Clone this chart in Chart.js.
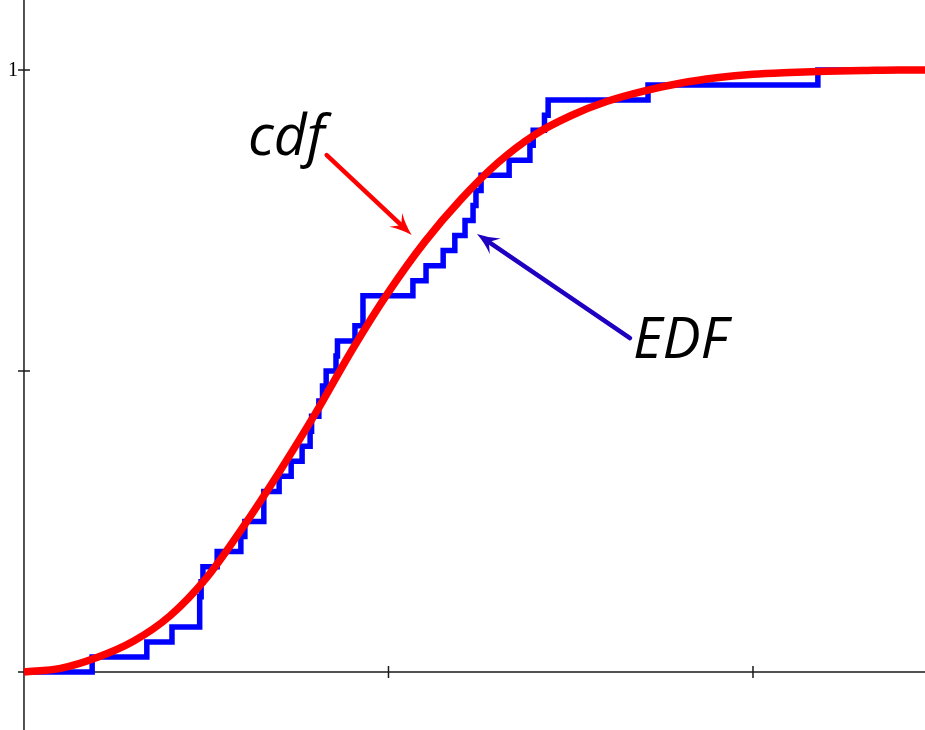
<!DOCTYPE html>
<html><head><meta charset="utf-8">
<script src="https://cdn.jsdelivr.net/npm/chart.js@4/dist/chart.umd.min.js"></script>
<style>html,body{margin:0;padding:0;background:#fff;overflow:hidden}#wrap{width:925px;height:730px;position:relative}</style>
</head><body><div id="wrap"><canvas id="c"></canvas></div>
<script>
// ---- data ----
const seriesLabels = ['cdf', 'EDF'];
const cdfX = [0, 0.1, 0.2, 0.3, 0.4, 0.5, 0.6, 0.7, 0.8, 0.9, 1.0, 1.1, 1.2, 1.3, 1.4, 1.5, 1.6, 1.7, 1.8, 1.9, 2.0, 2.1, 2.2, 2.3, 2.4, 2.472];
const cdfY = [0, 0.006, 0.024, 0.051, 0.093, 0.156, 0.240, 0.332, 0.430, 0.535, 0.631, 0.715, 0.786, 0.846, 0.892, 0.924, 0.948, 0.965, 0.978, 0.987, 0.993, 0.996, 0.998, 0.999, 1.0, 1.0];
const edfX = [0, 0.187, 0.337, 0.406, 0.482, 0.486, 0.491, 0.530, 0.595, 0.606, 0.658, 0.700, 0.733, 0.763, 0.785, 0.789, 0.809, 0.819, 0.829, 0.856, 0.860, 0.908, 0.930, 1.067, 1.103, 1.150, 1.182, 1.210, 1.232, 1.240, 1.254, 1.331, 1.388, 1.397, 1.428, 1.438, 1.712, 2.178, 2.472];
const edfY = [0, 0.025, 0.05, 0.075, 0.125, 0.15, 0.175, 0.2, 0.225, 0.25, 0.3, 0.325, 0.35, 0.375, 0.4, 0.425, 0.45, 0.475, 0.5, 0.525, 0.55, 0.575, 0.625, 0.65, 0.675, 0.7, 0.725, 0.75, 0.775, 0.8, 0.825, 0.85, 0.875, 0.9, 0.925, 0.95, 0.975, 1.0, 1.0];
const xTickValues = [1, 2];
const yTickValues = [0, 0.5, 1];
const yTickLabels = ['', '', '1'];

// ---- annotations (data coordinates) ----
const notes = [
  {kind: 'text', text: 'cdf', x: 0.6145, y: 0.8588, color: '#000000'},
  {kind: 'arrow', from: [0.8305, 0.8588], to: [1.0636, 0.7259], color: '#ff0000'},
  {kind: 'text', text: 'EDF', x: 1.6708, y: 0.5216, color: '#000000'},
  {kind: 'arrow', from: [1.6626, 0.5548], to: [1.2428, 0.7276], color: '#2000c0'}
];

const toPts = (xs, ys) => xs.map((x, i) => ({x: x, y: ys[i]}));

const axesPlugin = {
  id: 'mathAxes',
  beforeDatasetsDraw(chart) {
    const {ctx, scales: {x, y}} = chart;
    const x0 = x.getPixelForValue(0), y0 = y.getPixelForValue(0);
    ctx.save();
    ctx.strokeStyle = '#1a1a1a';
    ctx.lineWidth = 1.5;
    ctx.beginPath();
    ctx.moveTo(x0, chart.chartArea.top);
    ctx.lineTo(x0, chart.chartArea.bottom);
    ctx.moveTo(x0, y0);
    ctx.lineTo(chart.chartArea.right, y0);
    yTickValues.forEach(v => {
      const p = y.getPixelForValue(v);
      ctx.moveTo(x0 - 6, p); ctx.lineTo(x0 + 6, p);
    });
    xTickValues.forEach(v => {
      const p = x.getPixelForValue(v);
      ctx.moveTo(p, y0 - 6); ctx.lineTo(p, y0 + 6);
    });
    ctx.stroke();
    ctx.fillStyle = '#000';
    ctx.font = '20px "Liberation Serif", "DejaVu Serif", serif';
    ctx.textAlign = 'right';
    ctx.textBaseline = 'middle';
    yTickValues.forEach((v, i) => {
      if (yTickLabels[i]) ctx.fillText(yTickLabels[i], x0 - 6, y.getPixelForValue(v) + 1);
    });
    ctx.restore();
  },
  afterDatasetsDraw(chart) {
    const {ctx, scales: {x, y}} = chart;
    ctx.save();
    notes.forEach(n => {
      if (n.kind === 'text') {
        ctx.fillStyle = n.color;
        ctx.font = 'italic 57px "Open Sans", "Noto Sans", sans-serif';
        ctx.textAlign = 'left';
        ctx.textBaseline = 'alphabetic';
        ctx.fillText(n.text, x.getPixelForValue(n.x), y.getPixelForValue(n.y));
      } else {
        const sx = x.getPixelForValue(n.from[0]), sy = y.getPixelForValue(n.from[1]);
        const tx = x.getPixelForValue(n.to[0]), ty = y.getPixelForValue(n.to[1]);
        const dx = tx - sx, dy = ty - sy, len = Math.hypot(dx, dy);
        const ux = dx / len, uy = dy / len, nx = -uy, ny = ux;
        const L = 22, W = 9.5;
        ctx.strokeStyle = n.color;
        ctx.fillStyle = n.color;
        ctx.lineWidth = 4.5;
        ctx.lineCap = 'round';
        ctx.beginPath();
        ctx.moveTo(sx, sy);
        ctx.lineTo(tx - ux * L * 0.6, ty - uy * L * 0.6);
        ctx.stroke();
        const bx = tx - ux * L, by = ty - uy * L;
        const mx = tx - ux * L * 0.65, my = ty - uy * L * 0.65;
        ctx.beginPath();
        ctx.moveTo(tx, ty);
        ctx.quadraticCurveTo(tx - ux * L * 0.55 + nx * W * 0.35, ty - uy * L * 0.55 + ny * W * 0.35, bx + nx * W, by + ny * W);
        ctx.lineTo(mx, my);
        ctx.lineTo(bx - nx * W, by - ny * W);
        ctx.quadraticCurveTo(tx - ux * L * 0.55 - nx * W * 0.35, ty - uy * L * 0.55 - ny * W * 0.35, tx, ty);
        ctx.closePath();
        ctx.fill();
      }
    });
    ctx.restore();
  }
};

new Chart(document.getElementById('c'), {
  type: 'line',
  data: {
    datasets: [
      {
        label: seriesLabels[0],
        data: toPts(cdfX, cdfY),
        borderColor: '#ff0000',
        borderWidth: 7.5,
        pointRadius: 0,
        cubicInterpolationMode: 'monotone',
        fill: false
      },
      {
        label: seriesLabels[1],
        data: toPts(edfX, edfY),
        borderColor: '#0000ff',
        borderWidth: 5.5,
        pointRadius: 0,
        stepped: 'before',
        borderJoinStyle: 'miter',
        borderCapStyle: 'butt',
        fill: false
      }
    ]
  },
  options: {
    responsive: true,
    maintainAspectRatio: false,
    animation: false,
    devicePixelRatio: 1,
    layout: {padding: 0},
    events: [],
    plugins: {legend: {display: false}, tooltip: {enabled: false}, title: {display: false}},
    scales: {
      x: {type: 'linear', display: false, min: -0.0658, max: 2.4719},
      y: {type: 'linear', display: false, min: -0.0963, max: 1.1163}
    }
  },
  plugins: [axesPlugin]
});
</script>
</body></html>
